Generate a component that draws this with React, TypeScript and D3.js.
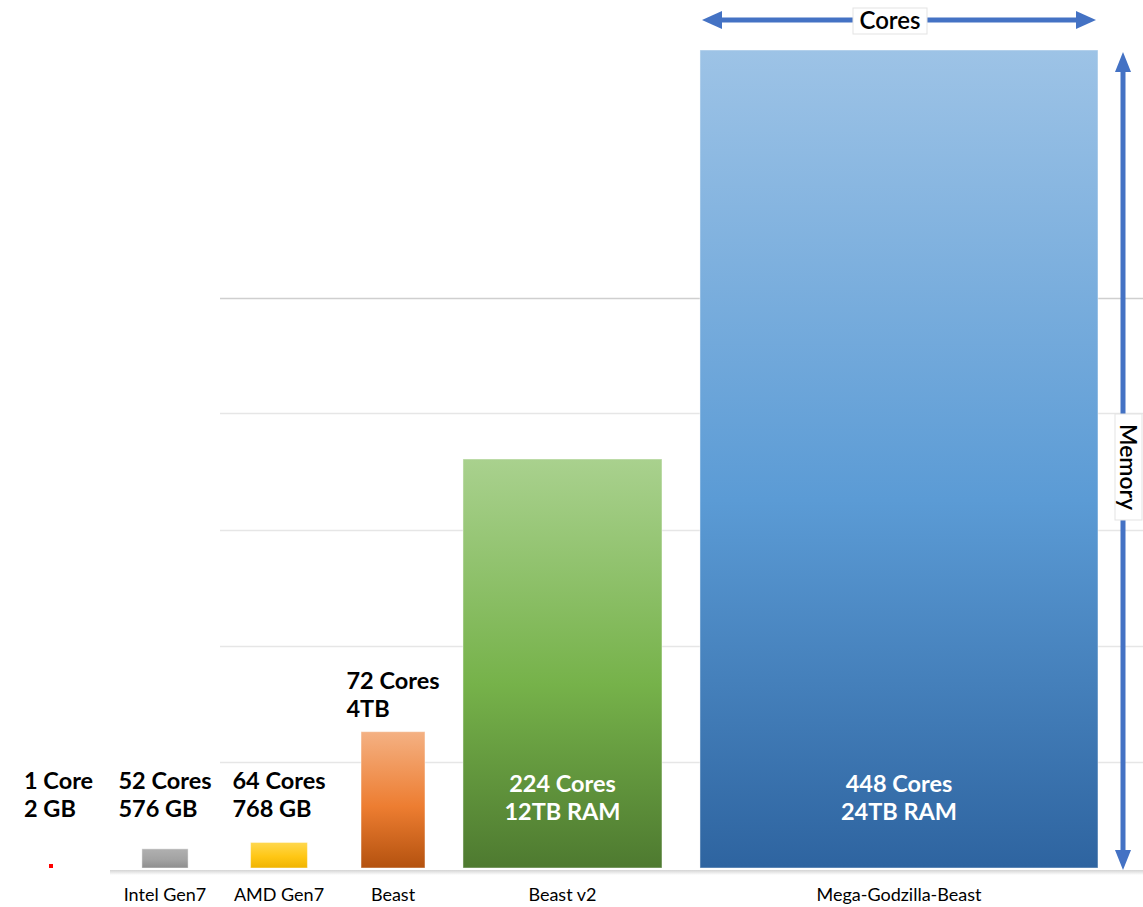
import React, { useEffect, useRef } from "react";
import * as d3 from "d3";

const categories = ["", "Intel Gen7", "AMD Gen7", "Beast", "Beast v2", "Mega-Godzilla-Beast"];
const cores = [1, 52, 64, 72, 224, 448];
const memoryTB = [2 / 1024, 576 / 1024, 768 / 1024, 4, 12, 24];
const labelLine1 = ["1 Core", "52 Cores", "64 Cores", "72 Cores", "224 Cores", "448 Cores"];
const labelLine2 = ["2 GB", "576 GB", "768 GB", "4TB", "12TB RAM", "24TB RAM"];
const gridValues = [3.1, 6.5, 9.92, 13.35, 16.72];

const gradients = [
  ["#ff0000", "#ff0000", "#ff0000"],
  ["#b0b0b0", "#a3a3a3", "#8e8e8e"],
  ["#ffd84f", "#ffc715", "#f0b400"],
  ["#f4b183", "#ed7d31", "#b4520f"],
  ["#a9d18e", "#76b24a", "#4e7a30"],
  ["#9dc3e6", "#5b9bd5", "#2e64a0"],
];

const W = 1143;
const H = 907;
const BASE_Y = 868;
const TOP_Y = 50;
const FONT = "Lato, 'Open Sans', sans-serif";

export default function App() {
  const ref = useRef<SVGSVGElement | null>(null);

  useEffect(() => {
    const svg = d3.select(ref.current);
    svg.selectAll("*").remove();

    const wScale = d3.scaleLinear().domain([0, 448]).range([0, 398]);
    const hScale = d3.scaleLinear().domain([0, 24]).range([BASE_Y, TOP_Y]);

    const defs = svg.append("defs");
    gradients.forEach((g, i) => {
      const lg = defs
        .append("linearGradient")
        .attr("id", `grad${i}`)
        .attr("x1", 0)
        .attr("y1", 0)
        .attr("x2", 0)
        .attr("y2", 1);
      lg.append("stop").attr("offset", "0%").attr("stop-color", g[0]);
      lg.append("stop").attr("offset", "55%").attr("stop-color", g[1]);
      lg.append("stop").attr("offset", "100%").attr("stop-color", g[2]);
    });
    const sh = defs
      .append("linearGradient")
      .attr("id", "baseShadow")
      .attr("x1", 0)
      .attr("y1", 0)
      .attr("x2", 0)
      .attr("y2", 1);
    sh.append("stop").attr("offset", "0%").attr("stop-color", "#d4d4d4");
    sh.append("stop").attr("offset", "100%").attr("stop-color", "#ffffff");

    // layout: slots with minimum gap
    const step = 114;
    const gap = 38;
    let prevRight = -Infinity;
    const bars = cores.map((c, i) => {
      const w = Math.max(4, wScale(c));
      const center = 51 + i * step;
      const left = Math.max(center - w / 2, prevRight + gap);
      prevRight = left + w;
      const top = Math.min(hScale(memoryTB[i]), BASE_Y - 4);
      return { i, left, w, top, cx: left + w / 2 };
    });

    // gridlines
    svg
      .append("g")
      .selectAll("line")
      .data(gridValues)
      .join("line")
      .attr("x1", 220)
      .attr("x2", W)
      .attr("y1", (d) => Math.round(hScale(d)) + 0.5)
      .attr("y2", (d) => Math.round(hScale(d)) + 0.5)
      .attr("stroke", (d, i) => (i === gridValues.length - 1 ? "#cfcfcf" : "#e6e6e6"))
      .attr("stroke-width", 1.5);

    // baseline
    svg
      .append("rect")
      .attr("x", 110)
      .attr("y", BASE_Y + 2)
      .attr("width", W - 110)
      .attr("height", 5)
      .attr("fill", "url(#baseShadow)");

    // bars
    svg
      .append("g")
      .selectAll("rect")
      .data(bars)
      .join("rect")
      .attr("x", (d) => d.left)
      .attr("y", (d) => d.top)
      .attr("width", (d) => d.w)
      .attr("height", (d) => BASE_Y - d.top)
      .attr("fill", (d) => `url(#grad${d.i})`)
      .attr("stroke", (d) => (d.i === 0 ? "none" : "rgba(255,255,255,0.45)"))
      .attr("stroke-width", 1);

    // category labels
    svg
      .append("g")
      .selectAll("text")
      .data(bars)
      .join("text")
      .attr("x", (d) => d.cx)
      .attr("y", 901)
      .attr("text-anchor", "middle")
      .attr("font-family", FONT)
      .attr("font-size", 18)
      .attr("fill", "#000")
      .text((d) => categories[d.i]);

    // value labels
    bars.forEach((b) => {
      const inside = b.i >= 4;
      const y2 = inside ? 820 : Math.min(b.top - 15, 817);
      const y1 = y2 - 28;
      const g = svg.append("g");
      const fill = inside ? "#ffffff" : "#000000";
      const t1 = g
        .append("text")
        .attr("font-family", FONT)
        .attr("font-weight", 700)
        .attr("font-size", 23.5)
        .attr("fill", fill)
        .attr("y", y1)
        .text(labelLine1[b.i]);
      const t2 = g
        .append("text")
        .attr("font-family", FONT)
        .attr("font-weight", 700)
        .attr("font-size", 23.5)
        .attr("fill", fill)
        .attr("y", y2)
        .text(labelLine2[b.i]);
      if (inside) {
        t1.attr("x", b.cx).attr("text-anchor", "middle");
        t2.attr("x", b.cx).attr("text-anchor", "middle");
      } else {
        const len = (t1.node() as SVGTextElement).getComputedTextLength();
        const x = Math.max(24, b.cx - len / 2);
        t1.attr("x", x);
        t2.attr("x", x);
      }
    });

    // Cores arrow (top)
    const mega = bars[bars.length - 1];
    const blue = "#4472c4";
    const ay = 20;
    const ax1 = mega.left + 2;
    const ax2 = mega.left + mega.w - 2;
    const head = 20;
    svg
      .append("line")
      .attr("x1", ax1 + head - 2)
      .attr("x2", ax2 - head + 2)
      .attr("y1", ay)
      .attr("y2", ay)
      .attr("stroke", blue)
      .attr("stroke-width", 5);
    svg
      .append("path")
      .attr("d", `M${ax1},${ay} L${ax1 + head},${ay - 9} L${ax1 + head},${ay + 9} Z`)
      .attr("fill", blue);
    svg
      .append("path")
      .attr("d", `M${ax2},${ay} L${ax2 - head},${ay - 9} L${ax2 - head},${ay + 9} Z`)
      .attr("fill", blue);
    const coresCx = 890;
    svg
      .append("rect")
      .attr("x", coresCx - 37)
      .attr("y", 8)
      .attr("width", 74)
      .attr("height", 26)
      .attr("fill", "#fff")
      .attr("stroke", "#e3e3e3");
    svg
      .append("text")
      .attr("x", coresCx)
      .attr("y", 29)
      .attr("text-anchor", "middle")
      .attr("font-family", FONT)
      .attr("font-weight", 600)
      .attr("font-size", 24)
      .attr("fill", "#000")
      .text("Cores");

    // Memory arrow (right)
    const mx = 1123;
    const my1 = TOP_Y + 2;
    const my2 = BASE_Y + 2;
    svg
      .append("line")
      .attr("x1", mx)
      .attr("x2", mx)
      .attr("y1", my1 + head - 2)
      .attr("y2", my2 - head + 2)
      .attr("stroke", blue)
      .attr("stroke-width", 5);
    svg
      .append("path")
      .attr("d", `M${mx},${my1} L${mx - 8},${my1 + head} L${mx + 8},${my1 + head} Z`)
      .attr("fill", blue);
    svg
      .append("path")
      .attr("d", `M${mx},${my2} L${mx - 8},${my2 - head} L${mx + 8},${my2 - head} Z`)
      .attr("fill", blue);
    const memCy = 467;
    svg
      .append("rect")
      .attr("x", 1115)
      .attr("y", memCy - 53)
      .attr("width", 27)
      .attr("height", 106)
      .attr("fill", "#fff")
      .attr("stroke", "#e3e3e3");
    svg
      .append("text")
      .attr("transform", `translate(${1120},${memCy}) rotate(90)`)
      .attr("text-anchor", "middle")
      .attr("font-family", FONT)
      .attr("font-weight", 600)
      .attr("font-size", 23)
      .attr("fill", "#000")
      .text("Memory");
  }, []);

  return (
    <svg
      ref={ref}
      width={W}
      height={H}
      style={{ position: "absolute", left: 0, top: 0, background: "#fff" }}
    />
  );
}
